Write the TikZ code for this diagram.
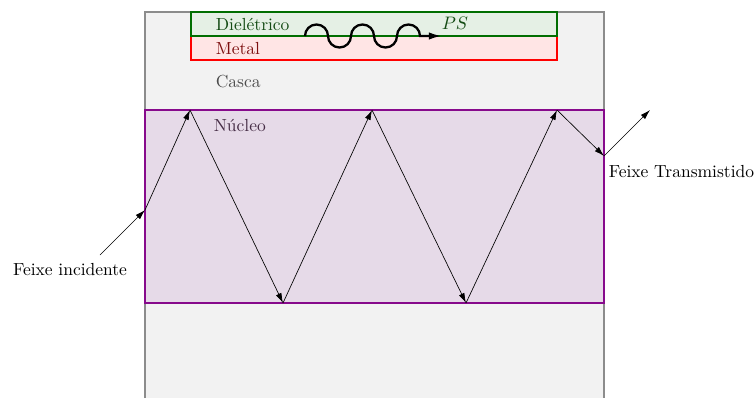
\documentclass[tikz,border=0pt]{standalone}
\usepackage{tikz}
\usetikzlibrary{arrows,arrows.meta,calc,positioning}
\definecolor{cascafill}{RGB}{242,242,242}
\definecolor{nucleofill}{RGB}{230,218,232}
\definecolor{nucleodraw}{RGB}{135,10,140}
\definecolor{dieldraw}{RGB}{0,110,0}
\definecolor{dieltext}{RGB}{20,75,20}
\definecolor{metaltext}{RGB}{125,15,15}
\definecolor{nucleotext}{RGB}{70,45,70}

\begin{document}
\begin{tikzpicture}[>={Latex[length=6pt,width=3.6pt]}, x=0.0213cm, y=-0.0213cm, every node/.style={font=\fontsize{10.6pt}{13pt}\selectfont, text=black}]
        \useasboundingbox (0,0) rectangle (755,398);

        % Casca
        \fill[cascafill] (145,12) rectangle (604,398);
        \draw[gray!90, very thick] (145,398) -- (145,12) -- (604,12) -- (604,398);

        % Nucleo
        \draw[nucleodraw, very thick, fill=nucleofill] (145,110) rectangle (604,303);

        % Metal e Dieletrico
        \draw[red, very thick, fill=red!10] (191,36) rectangle (557,60);
        \draw[dieldraw, very thick, fill=dieldraw!10] (191,12) rectangle (557,36);

        % Rotulos das camadas
        \node[anchor=west, text=dieltext] (dieletrico) at (210,24) {Dielétrico};
        \node[anchor=west, text=metaltext] (metal) at (210,49) {Metal};
        \node[anchor=west, text=black!70] (casca) at (210,82) {Casca};
        \node[anchor=west, text=nucleotext] (nucleo) at (208,125) {Núcleo};

        % Plasmon de superficie
        \draw[line width=1.4pt, -{Latex[length=8pt,width=4.5pt]}] (305,36) arc[start angle=180, end angle=360, radius=11.5]
            arc[start angle=180, end angle=0, radius=11.5]
            arc[start angle=180, end angle=360, radius=11.5]
            arc[start angle=180, end angle=0, radius=11.5]
            arc[start angle=180, end angle=360, radius=11.5] -- (442,36);
        \node[text=dieltext] (ps) at (455,23) {$PS$};

        % Feixe
        \coordinate (in) at (100,255);
        \coordinate (p0) at (145,210);
        \coordinate (t1) at (190,110);
        \coordinate (b1) at (283,303);
        \coordinate (t2) at (372,110);
        \coordinate (b2) at (466,303);
        \coordinate (t3) at (557,110);
        \coordinate (p1) at (604,156);
        \coordinate (out) at (650,110);
        \foreach \a/\b in {in/p0, p0/t1, t1/b1, b1/t2, t2/b2, b2/t3, t3/p1, p1/out}
            \draw[->] (\a) -- (\b);

        \node (incidente) at (70,270) {Feixe incidente};
        \node[anchor=west, inner sep=1.5pt] (transmitido) at (606,172) {Feixe Transmistido};
    \end{tikzpicture}
\end{document}
